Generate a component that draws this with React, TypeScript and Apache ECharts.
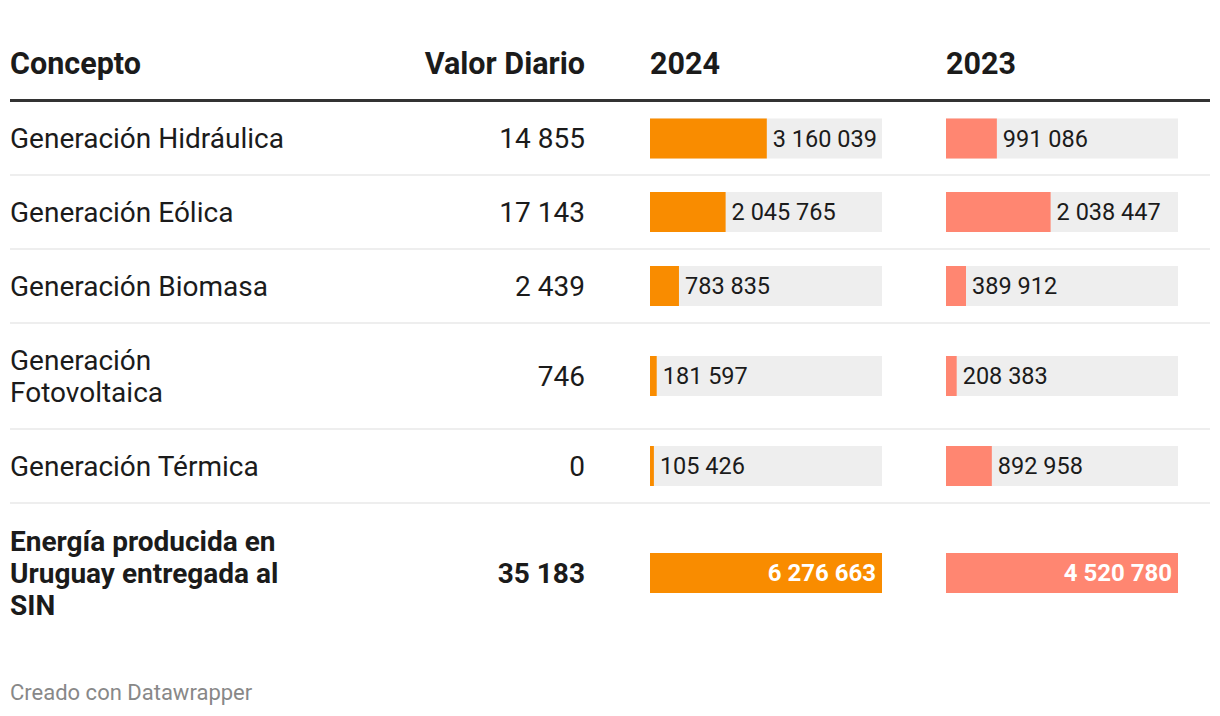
import React, { useEffect, useRef } from "react";
import * as echarts from "echarts";

// ---- data ----
const concepts = [
  "Generación Hidráulica",
  "Generación Eólica",
  "Generación Biomasa",
  "Generación Fotovoltaica",
  "Generación Térmica",
  "Energía producida en Uruguay entregada al SIN",
];
const dailyValues = [14855, 17143, 2439, 746, 0, 35183];
const values2024 = [3160039, 2045765, 783835, 181597, 105426, 6276663];
const values2023 = [991086, 2038447, 389912, 208383, 892958, 4520780];
const headers = ["Concepto", "Valor Diario", "2024", "2023"];
const footer = "Creado con Datawrapper";

// ---- layout ----
const W = 1220;
const H = 716;
const FONT = "Roboto, 'Noto Sans', sans-serif";
const conceptX = 10;
const conceptWrap = 285;
const dailyRight = 585;
const barX = [650, 946];
const barW = 232;
const barH = 40;
const rowEdges = [102, 175, 249, 323, 429, 503, 643];
const colors = ["#f98c00", "#ff8671"];
const textColor = "#1b1b1b";
const bodySize = 28;

const fmt = (v: number) => String(v).replace(/\B(?=(\d{3})+(?!\d))/g, " ");

function wrap(text: string, font: string, maxW: number): string {
  const ctx = document.createElement("canvas").getContext("2d");
  if (!ctx) return text;
  ctx.font = font;
  const words = text.split(" ");
  const lines: string[] = [];
  let cur = "";
  words.forEach((w) => {
    const test = cur ? cur + " " + w : w;
    if (cur && ctx.measureText(test).width > maxW) {
      lines.push(cur);
      cur = w;
    } else cur = test;
  });
  if (cur) lines.push(cur);
  return lines.join("\n");
}

export default function App() {
  const ref = useRef<HTMLDivElement>(null);
  useEffect(() => {
    if (!ref.current) return;
    const chart = echarts.init(ref.current, undefined, { renderer: "svg" });
    const yearValues = [values2024, values2023];
    const nRows = concepts.length;
    const lastRow = nRows - 1;
    const centers = concepts.map((_, i) => (rowEdges[i] + rowEdges[i + 1]) / 2);

    const grids: any[] = [];
    const xAxes: any[] = [];
    const yAxes: any[] = [];
    const series: any[] = [];
    concepts.forEach((c, i) => {
      yearValues.forEach((vals, j) => {
        const idx = grids.length;
        const total = vals[lastRow];
        grids.push({ left: barX[j], width: barW, top: centers[i] - barH / 2, height: barH, containLabel: false });
        xAxes.push({ type: "value", gridIndex: idx, min: 0, max: total, show: false });
        yAxes.push({ type: "category", gridIndex: idx, data: [c], show: false });
        const isTotal = i === lastRow;
        series.push({
          type: "bar",
          xAxisIndex: idx,
          yAxisIndex: idx,
          data: [vals[i]],
          barWidth: barH,
          itemStyle: { color: colors[j] },
          showBackground: !isTotal,
          backgroundStyle: { color: "#eeeeee" },
          label: {
            show: true,
            position: isTotal ? "insideRight" : "right",
            distance: 6,
            formatter: (p: any) => fmt(p.value),
            fontFamily: FONT,
            fontSize: isTotal ? 24 : 23.5,
            fontWeight: isTotal ? "bold" : "normal",
            color: isTotal ? "#ffffff" : textColor,
          },
        });
      });
    });

    const graphic: any[] = [];
    const headerY = 63.5;
    const headerStyle = { fontFamily: FONT, fontSize: 30.5, fontWeight: "bold", fill: textColor, textVerticalAlign: "middle" };
    graphic.push({ type: "text", x: conceptX, y: headerY, style: { ...headerStyle, text: headers[0], textAlign: "left" } });
    graphic.push({ type: "text", x: dailyRight, y: headerY, style: { ...headerStyle, text: headers[1], textAlign: "right" } });
    graphic.push({ type: "text", x: barX[0], y: headerY, style: { ...headerStyle, text: headers[2], textAlign: "left" } });
    graphic.push({ type: "text", x: barX[1], y: headerY, style: { ...headerStyle, text: headers[3], textAlign: "left" } });
    graphic.push({ type: "rect", shape: { x: 10, y: 99, width: 1200, height: 3 }, style: { fill: "#333333" } });
    for (let i = 1; i < nRows; i++) {
      graphic.push({ type: "rect", shape: { x: 10, y: rowEdges[i] - 1, width: 1200, height: 2 }, style: { fill: "#eeeeee" } });
    }
    concepts.forEach((c, i) => {
      const isTotal = i === lastRow;
      const weight = isTotal ? "bold" : "normal";
      graphic.push({
        type: "text",
        x: conceptX,
        y: centers[i],
        style: {
          text: wrap(c, `${weight} ${bodySize}px Roboto`, conceptWrap),
          lineHeight: 32,
          fontFamily: FONT,
          fontSize: bodySize,
          fontWeight: weight,
          fill: textColor,
          textAlign: "left",
          textVerticalAlign: "middle",
        },
      });
      graphic.push({
        type: "text",
        x: dailyRight,
        y: centers[i],
        style: {
          text: fmt(dailyValues[i]),
          fontFamily: FONT,
          fontSize: bodySize,
          fontWeight: weight,
          fill: textColor,
          textAlign: "right",
          textVerticalAlign: "middle",
        },
      });
    });
    graphic.push({
      type: "text",
      x: 10,
      y: 692,
      style: { text: footer, fontFamily: FONT, fontSize: 22, fill: "#888888", textAlign: "left", textVerticalAlign: "middle" },
    });

    chart.setOption({
      animation: false,
      backgroundColor: "#ffffff",
      grid: grids,
      xAxis: xAxes,
      yAxis: yAxes,
      series,
      graphic,
    });
    return () => chart.dispose();
  }, []);
  return <div ref={ref} style={{ position: "absolute", left: 0, top: 0, width: W, height: H }} />;
}
